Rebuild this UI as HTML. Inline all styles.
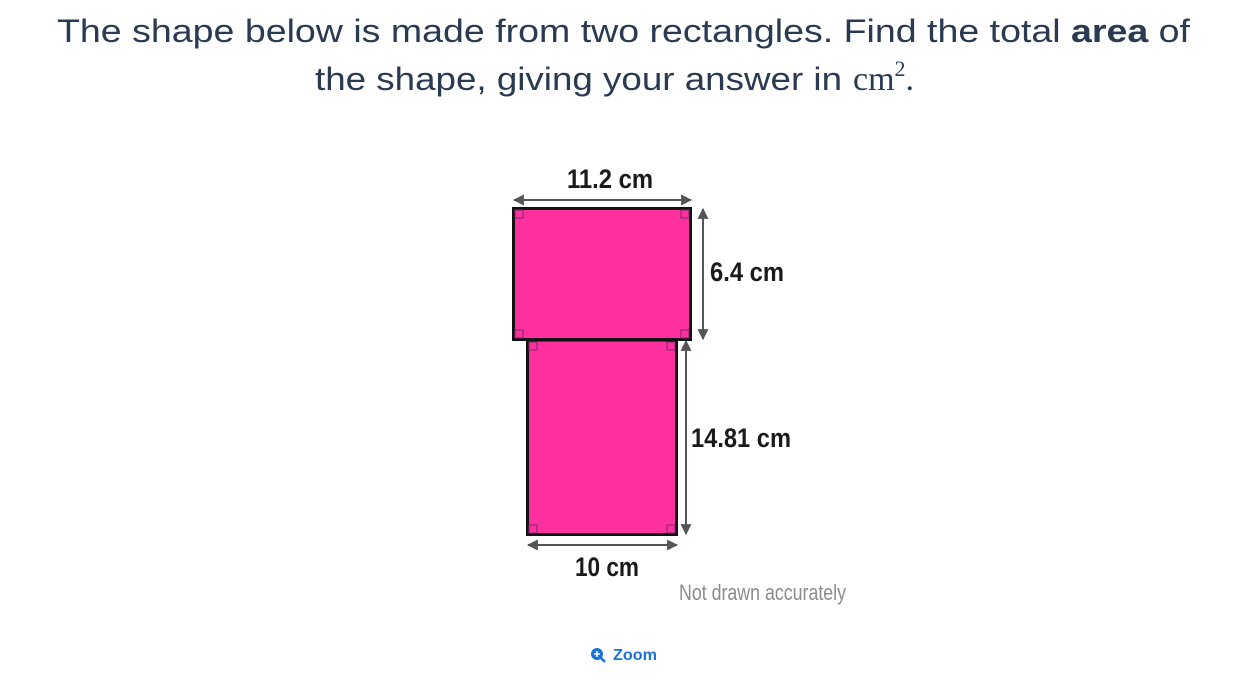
<!DOCTYPE html>
<html><head><meta charset="utf-8"><style>
html,body{margin:0;padding:0;background:#fff;width:1247px;height:691px;overflow:hidden}
svg{display:block}
</style></head><body>
<svg width="1247" height="691" viewBox="0 0 1247 691">
<defs>
<marker id="ah" viewBox="0 0 10 10" refX="9" refY="5" markerWidth="5.5" markerHeight="5.5" orient="auto-start-reverse"><path d="M0,0 L10,5 L0,10 z" fill="#555"/></marker>
</defs>
<g font-family="'Liberation Sans', sans-serif" font-size="32" fill="#2a3a52">
<text x="57" y="42" textLength="1133" lengthAdjust="spacingAndGlyphs">The shape below is made from two rectangles. Find the total <tspan font-weight="bold">area</tspan> of</text>
<text x="315" y="90" textLength="527" lengthAdjust="spacingAndGlyphs">the shape, giving your answer in</text>
<text x="853" y="90" font-family="'Liberation Serif', serif" font-size="34">cm<tspan font-size="22" dy="-14">2</tspan><tspan dy="14">.</tspan></text>
</g>
<g>
<rect x="513.5" y="208.5" width="177" height="131" fill="#fe2f9f" stroke="#111" stroke-width="3"/>
</g>
<g>
<rect x="527.5" y="340" width="149" height="194.5" fill="#fe2f9f" stroke="#111" stroke-width="3"/>
<line x1="513.5" y1="339.5" x2="690.5" y2="339.5" stroke="#111" stroke-width="3"/>
</g>
<g fill="none" stroke="#7a2a6a" stroke-width="1">
<rect x="515" y="210" width="8" height="8"/><rect x="681" y="210" width="8" height="8"/>
<rect x="515" y="330" width="8" height="8"/><rect x="681" y="330" width="8" height="8"/>
<rect x="529" y="342" width="8" height="8"/><rect x="667" y="342" width="8" height="8"/>
<rect x="529" y="525" width="8" height="8"/><rect x="667" y="525" width="8" height="8"/>
</g>
<g stroke="#555" stroke-width="2">
<line x1="514" y1="200" x2="691" y2="200" marker-start="url(#ah)" marker-end="url(#ah)"/>
<line x1="703" y1="209" x2="703" y2="339" marker-start="url(#ah)" marker-end="url(#ah)"/>
<line x1="686" y1="341" x2="686" y2="534" marker-start="url(#ah)" marker-end="url(#ah)"/>
<line x1="528" y1="545" x2="677" y2="545" marker-start="url(#ah)" marker-end="url(#ah)"/>
</g>
<g font-family="'Liberation Sans Narrow','Liberation Sans',sans-serif" font-weight="bold" font-size="27" fill="#1a1a1a">
<text x="610" y="188" text-anchor="middle" textLength="86" lengthAdjust="spacingAndGlyphs">11.2 cm</text>
<text x="710" y="281" textLength="74" lengthAdjust="spacingAndGlyphs">6.4 cm</text>
<text x="691" y="447" textLength="100" lengthAdjust="spacingAndGlyphs">14.81 cm</text>
<text x="607" y="576" text-anchor="middle" textLength="64" lengthAdjust="spacingAndGlyphs">10 cm</text>
</g>
<text x="679" y="600" font-family="'Liberation Sans Narrow','Liberation Sans',sans-serif" font-size="22" fill="#8c8c8c" textLength="167" lengthAdjust="spacingAndGlyphs">Not drawn accurately</text>
<g fill="#1a73d9">
<circle cx="597" cy="654" r="6" fill="#1a73d9"/>
<line x1="601" y1="658" x2="605" y2="662" stroke="#1a73d9" stroke-width="2.5"/>
<path d="M594,654 h6 M597,651 v6" stroke="#fff" stroke-width="1.6"/>
<text x="613" y="660" font-family="'Liberation Sans',sans-serif" font-size="16" font-weight="bold" textLength="44" lengthAdjust="spacingAndGlyphs">Zoom</text>
</g>
</svg>
</body></html>
